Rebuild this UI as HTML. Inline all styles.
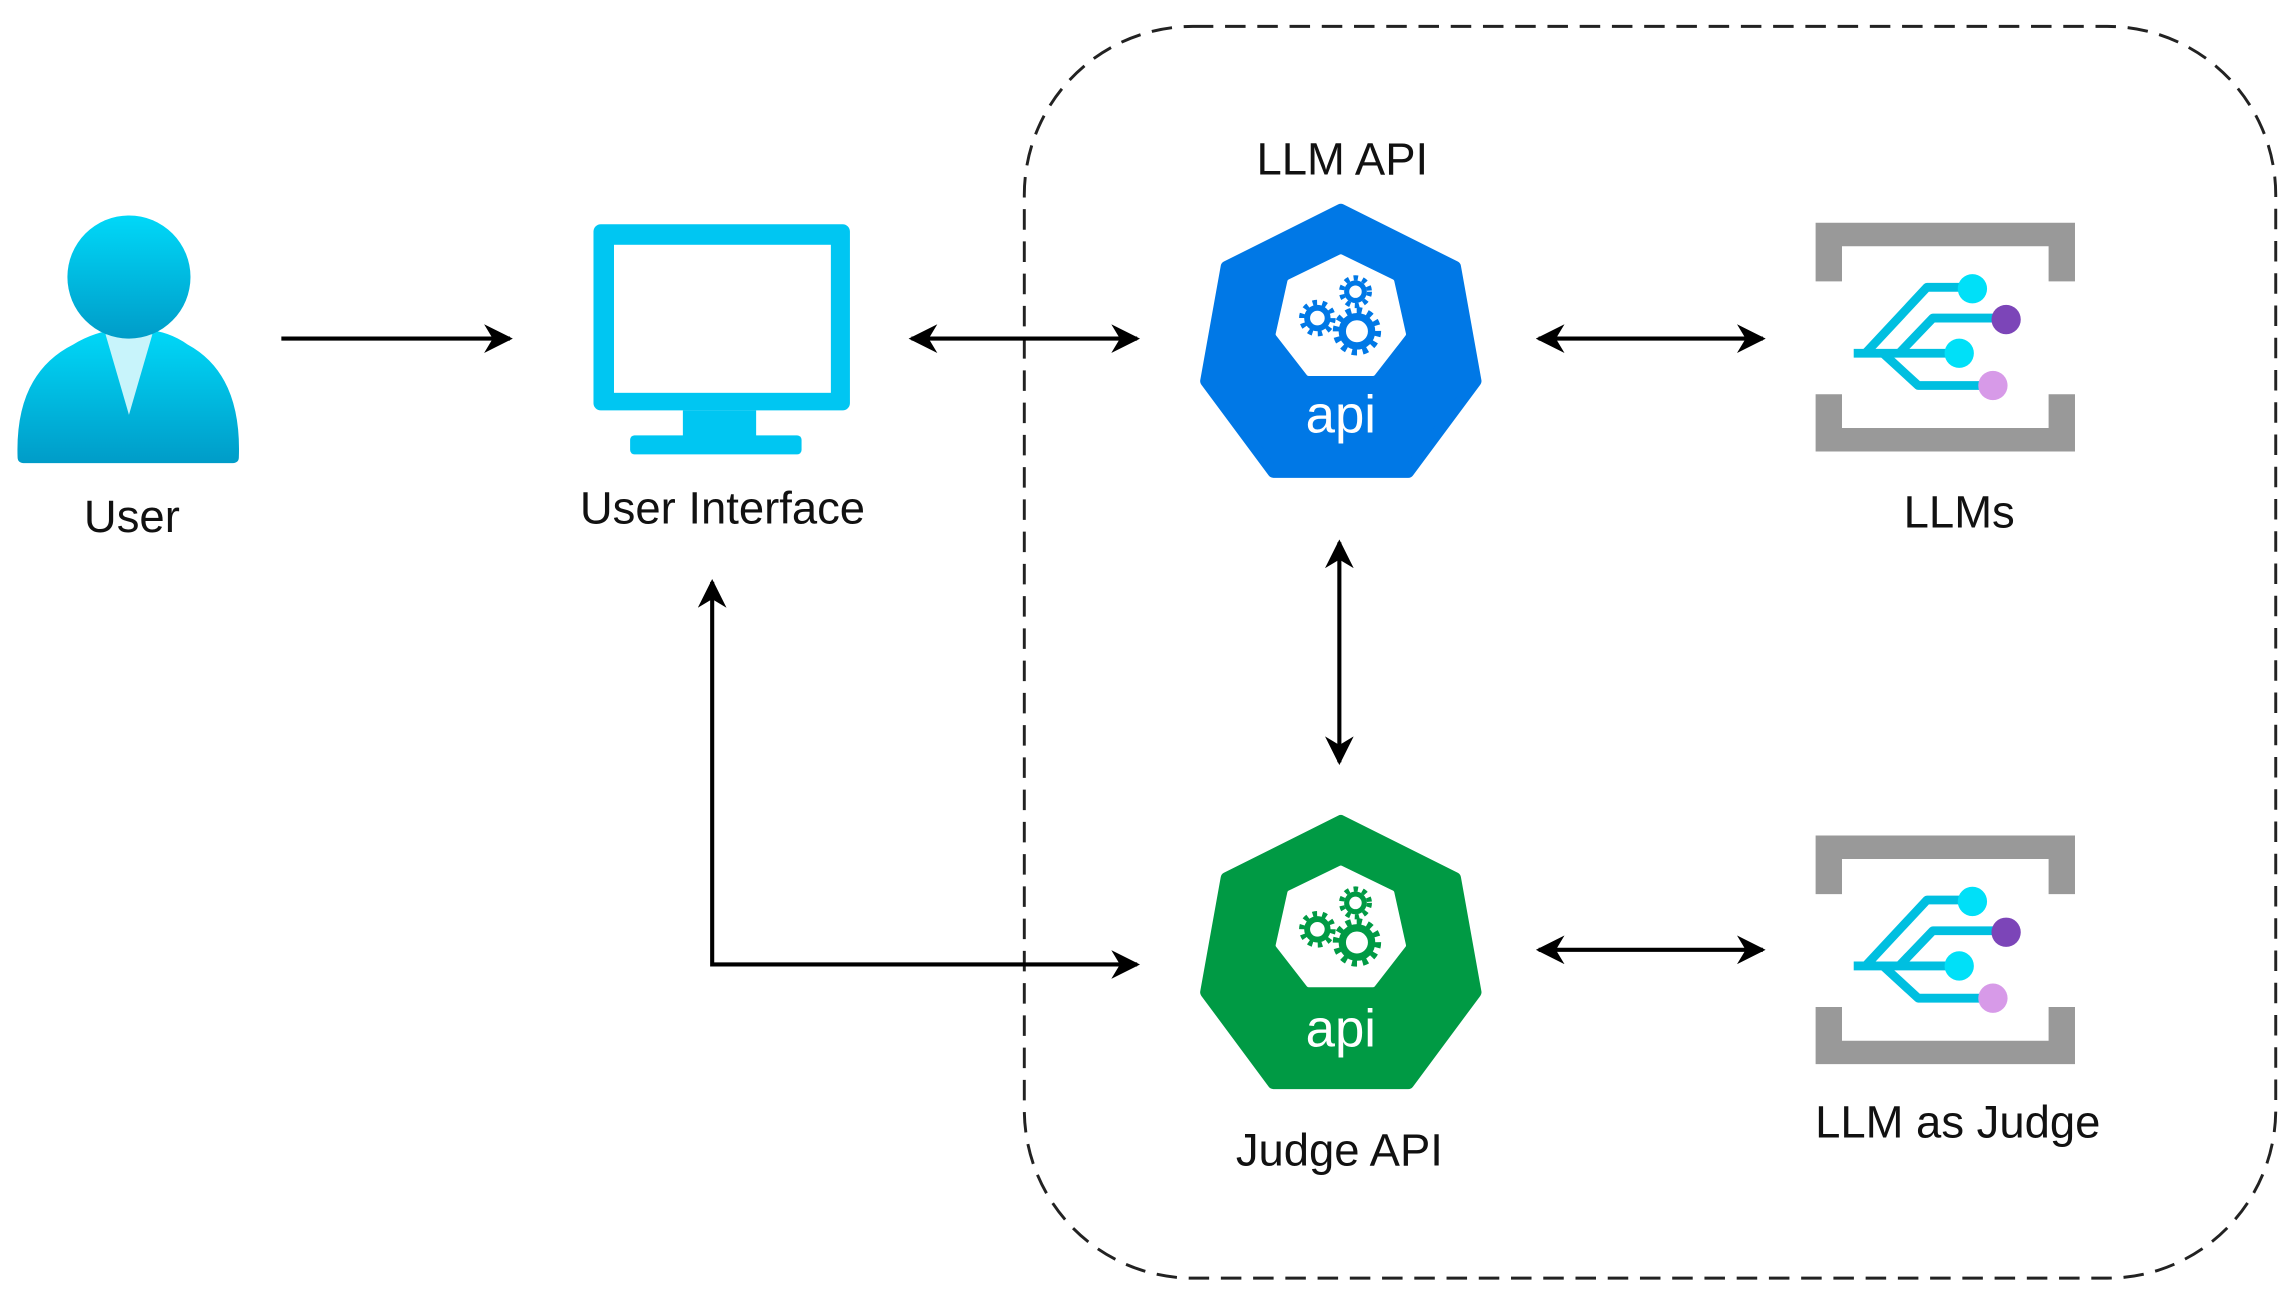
<!DOCTYPE html>
<html><head><meta charset="utf-8"><style>
html,body{margin:0;padding:0;background:#fff;}
svg{display:block;}
text{font-family:"Liberation Sans",sans-serif;}
</style></head><body>
<svg width="2286" height="1306" viewBox="0 0 1560 891" preserveAspectRatio="none" xmlns="http://www.w3.org/2000/svg">
<defs>
<linearGradient id="ug" x1="0" y1="0" x2="0" y2="1"><stop offset="0" stop-color="#00d8f8"/><stop offset="1" stop-color="#009cc8"/></linearGradient>
<marker id="ah" viewBox="0 0 10 10" refX="9" refY="5" markerWidth="7" markerHeight="7" orient="auto-start-reverse"><path d="M0,0 L10,5 L0,10 L3,5 z" fill="#000"/></marker>
<g id="llm">
 <path d="M0,0 H177 V40 H159 V16 H18 V40 H0 Z" fill="#999"/>
 <path d="M0,117 H18 V140 H159 V117 H177 V156 H0 Z" fill="#999"/>
 <g fill="none" stroke="#00bfe0" stroke-width="6" stroke-linejoin="round">
  <path d="M26,89 H104"/>
  <path d="M34,89 L76,44 H107"/>
  <path d="M57,89 L80,65 H130"/>
  <path d="M46,89 L70,111 H121"/>
 </g>
 <circle cx="107" cy="45" r="10" fill="#00e0f8"/>
 <circle cx="130" cy="66" r="10" fill="#7c45b8"/>
 <circle cx="98" cy="89" r="10" fill="#00e0f8"/>
 <circle cx="121" cy="111" r="10" fill="#d79ae8"/>
</g>
<g id="gears" fill="none" stroke-linecap="butt">
 <circle cx="-18" cy="2" r="7" stroke-width="4" />
 <circle cx="-18" cy="2" r="10.5" stroke-width="4" stroke-dasharray="3 3.6"/>
 <circle cx="8" cy="-16" r="6" stroke-width="3.5"/>
 <circle cx="8" cy="-16" r="9.5" stroke-width="3.5" stroke-dasharray="3 3.2"/>
 <circle cx="9" cy="11" r="10" stroke-width="5"/>
 <circle cx="9" cy="11" r="14" stroke-width="5" stroke-dasharray="3.5 3.8"/>
</g>
</defs>

<rect x="699" y="18" width="854" height="854" rx="115" ry="115" fill="none" stroke="#222" stroke-width="2" stroke-dasharray="14 8"/>

<path d="M12,312 Q10,255 50,235 Q65,226 80,225 L100,225 Q115,226 128,235 Q165,255 163,312 Q163,316 158,316 L17,316 Q12,316 12,312 Z" fill="url(#ug)"/>
<polygon points="72,228 104,228 88,283" fill="#c8f4fb"/>
<circle cx="88" cy="189" r="42" fill="url(#ug)"/>
<text x="90" y="363" font-size="31" text-anchor="middle" fill="#111">User</text>

<rect x="405" y="153" width="175" height="127" rx="5" fill="#00c6f2"/>
<rect x="419" y="167" width="148" height="101" fill="#fff"/>
<rect x="466" y="280" width="50" height="18" fill="#00c6f2"/>
<rect x="430" y="297" width="117" height="13" rx="3" fill="#00c6f2"/>
<text x="493" y="357" font-size="31" text-anchor="middle" fill="#111">User Interface</text>

<g stroke="#000" stroke-width="2.8" fill="none">
 <line x1="192" y1="231" x2="348" y2="231" marker-end="url(#ah)"/>
 <line x1="622" y1="231" x2="776" y2="231" marker-start="url(#ah)" marker-end="url(#ah)"/>
 <line x1="1050" y1="231" x2="1203" y2="231" marker-start="url(#ah)" marker-end="url(#ah)"/>
 <line x1="914" y1="370" x2="914" y2="520" marker-start="url(#ah)" marker-end="url(#ah)"/>
 <line x1="1050" y1="648" x2="1203" y2="648" marker-start="url(#ah)" marker-end="url(#ah)"/>
 <polyline points="486,397 486,658 776,658" marker-start="url(#ah)" marker-end="url(#ah)"/>
</g>

<text x="916" y="119" font-size="31" text-anchor="middle" fill="#111">LLM API</text>
<polygon points="915,143 993,182 1007,260 961,322 869,322 823,260 837,182" fill="#0078e6" stroke="#0078e6" stroke-width="8" stroke-linejoin="round"/>
<polygon points="915,175 950,192 958,228 937,255 893,255 872,228 880,192" fill="#fff" stroke="#fff" stroke-width="3" stroke-linejoin="round"/>
<use href="#gears" x="917" y="215" stroke="#0078e6"/>
<text x="915" y="295" font-size="36" text-anchor="middle" fill="#fff">api</text>

<polygon points="915,560 993,599 1007,677 961,739 869,739 823,677 837,599" fill="#009a44" stroke="#009a44" stroke-width="8" stroke-linejoin="round"/>
<polygon points="915,592 950,609 958,645 937,672 893,672 872,645 880,609" fill="#fff" stroke="#fff" stroke-width="3" stroke-linejoin="round"/>
<use href="#gears" x="917" y="632" stroke="#009a44"/>
<text x="915" y="714" font-size="36" text-anchor="middle" fill="#fff">api</text>
<text x="914" y="795" font-size="31" text-anchor="middle" fill="#111">Judge API</text>

<use href="#llm" x="1239" y="152"/>
<text x="1337" y="360" font-size="31" text-anchor="middle" fill="#111">LLMs</text>
<use href="#llm" x="1239" y="570"/>
<text x="1336" y="776" font-size="31" text-anchor="middle" fill="#111">LLM as Judge</text>
</svg>
</body></html>
